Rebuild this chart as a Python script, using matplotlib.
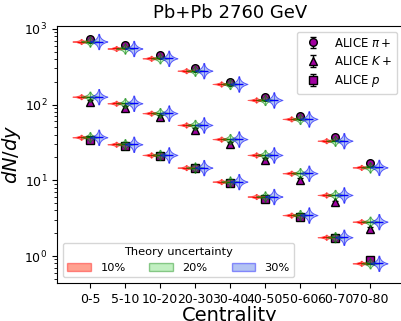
import numpy as np
import matplotlib
matplotlib.use('Agg')
import matplotlib.pyplot as plt
import matplotlib.patches as mpatches
from matplotlib.colors import to_rgba

centrality = ['0-5', '5-10', '10-20', '20-30', '30-40', '40-50', '50-60', '60-70', '70-80']

# ALICE data
alice_pi = [733, 606, 455, 307, 201, 124, 71, 37, 17.1]
alice_k = [109, 91, 68, 46, 30, 18.3, 10.2, 5.1, 2.3]
alice_p = [34, 28, 21, 14.5, 9.3, 5.6, 3.3, 1.73, 0.89]
rel_err = 0.06

# theory central values
theory_pi = [680, 550, 408, 280, 187, 115, 64.6, 33.3, 14.8]
theory_k = [127, 104, 77, 53.8, 35, 21.6, 12.4, 6.4, 2.84]
theory_p = [37, 29.9, 21.6, 14.7, 9.6, 6.1, 3.47, 1.77, 0.80]

uncert = [0.10, 0.20, 0.30]
unc_labels = ['10%', '20%', '30%']
unc_colors = ['red', 'green', 'blue']
face_colors = [to_rgba('tomato', 0.6), to_rgba('limegreen', 0.3), to_rgba('royalblue', 0.4)]
offsets = [-0.25, 0.0, 0.25]


def vp_stats(mu, s):
    # peaked shape in log space around the central value
    b = 0.26 * s
    t = np.linspace(-3 * b, 3 * b, 101)
    coords = mu * np.exp(t)
    vals = np.exp(-np.abs(t) / b)
    return dict(coords=coords, vals=vals, mean=mu, median=mu,
                min=coords[0], max=coords[-1])


fig = plt.figure(figsize=(4.01, 3.21), dpi=100)
ax = fig.add_axes([57 / 401, 38 / 321, 346 / 401, 257 / 321])

x = np.arange(len(centrality))

mk = dict(color='k', mfc='#a000a0', mec='k', ms=5.5, ls='none', capsize=2, elinewidth=1)
ax.errorbar(x, alice_pi, yerr=np.array(alice_pi) * rel_err, marker='o', label=r'ALICE $\pi+$', **mk)
ax.errorbar(x, alice_k, yerr=np.array(alice_k) * rel_err, marker='^', label=r'ALICE $K+$', **mk)
ax.errorbar(x, alice_p, yerr=np.array(alice_p) * rel_err, marker='s', label=r'ALICE $p$', **mk)

for theory in [theory_pi, theory_k, theory_p]:
    for s, col, fc, off in zip(uncert, unc_colors, face_colors, offsets):
        stats = [vp_stats(m, s) for m in theory]
        parts = ax.violin(stats, positions=x + off, widths=0.5,
                          showextrema=True, showmedians=True)
        for b in parts['bodies']:
            b.set_facecolor(fc)
            b.set_edgecolor(to_rgba(col, 0.6))
            b.set_alpha(None)
            b.set_linewidth(0.7)
            b.set_zorder(3)
        parts['cmedians'].set_color(col)
        parts['cmedians'].set_linewidth(1.0)
        parts['cmedians'].set_zorder(3)
        parts['cbars'].set_color(to_rgba(col, 0.5))
        parts['cbars'].set_linewidth(0.7)
        parts['cbars'].set_zorder(3)
        parts['cmins'].set_visible(False)
        parts['cmaxes'].set_visible(False)

ax.set_yscale('log')
ax.set_ylim(0.44, 1090)
ax.set_xlim(-0.94, 8.94)
ax.set_xticks(x)
ax.set_xticklabels(centrality, fontsize=9)
ax.tick_params(axis='y', labelsize=9)
ax.set_xlabel('Centrality', fontsize=14, labelpad=0)
ax.set_ylabel(r'$dN/dy$', fontsize=14, labelpad=1)
ax.set_title('Pb+Pb 2760 GeV', fontsize=13)

leg1 = ax.legend(loc='upper right', fontsize=8.5, labelspacing=0.45)
ax.add_artist(leg1)

handles = [mpatches.Patch(facecolor=fc, edgecolor=to_rgba(c, 0.4)) for fc, c in zip(face_colors, unc_colors)]
ax.legend(handles=handles, labels=unc_labels, loc='lower left', ncol=3, fontsize=8.2,
          title='Theory uncertainty', title_fontsize=8.2, columnspacing=2.1, handlelength=2.1)

fig.savefig('out.png', dpi=100)
